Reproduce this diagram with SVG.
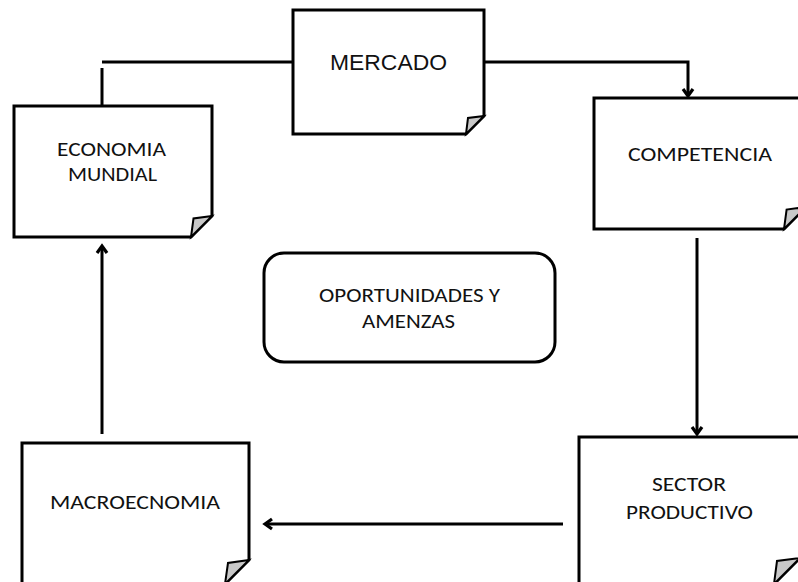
<svg xmlns="http://www.w3.org/2000/svg" width="798" height="582" viewBox="0 0 798 582">
  <style>
    .page { fill: #ffffff; stroke: #000000; stroke-width: 3; stroke-linejoin: miter; }
    .curl { fill: #c8c8c8; stroke: #000000; stroke-width: 2; stroke-linejoin: miter; }
    .wire { fill: none; stroke: #000000; stroke-width: 3; }
    .lbl { font-family: Carlito, Lato, "Open Sans", sans-serif; font-size: 21px; fill: #111111; text-anchor: middle; }
    .lbl-arial { font-family: "Liberation Sans", Arial, sans-serif; font-size: 22px; fill: #111111; text-anchor: middle; }
  </style>
  <defs>
    <marker id="head" markerUnits="userSpaceOnUse" markerWidth="16" markerHeight="16" viewBox="-10 -8 12 16" refX="0" refY="0" orient="auto" overflow="visible">
      <path d="M-7,-5 L0,0 L-7,5" fill="none" stroke="#000000" stroke-width="3.2"/>
    </marker>
  </defs>

  <rect width="798" height="582" fill="#ffffff"/>

  <!-- connectors -->
  <g id="connectors">
    <path class="wire" d="M293,62 H102"/>
    <path class="wire" d="M102,68 V106"/>
    <path class="wire" d="M484,62 H688 V96" marker-end="url(#head)"/>
    <path class="wire" d="M697,238 V434" marker-end="url(#head)"/>
    <path class="wire" d="M563,524 H265" marker-end="url(#head)"/>
    <path class="wire" d="M102,434 V246" marker-end="url(#head)"/>
  </g>

  <!-- MERCADO -->
  <g id="mercado">
    <path class="page" d="M293,10 H484 V116 L466,134 H293 Z"/>
    <path class="curl" d="M484,116 L468,118 L466,134 Z"/>
    <text class="lbl-arial" x="388.5" y="70" textLength="117" lengthAdjust="spacingAndGlyphs">MERCADO</text>
  </g>

  <!-- ECONOMIA MUNDIAL -->
  <g id="economia-mundial">
    <path class="page" d="M14,106 H212 V216 L191,237 H14 Z"/>
    <path class="curl" d="M212,216 L193.5,218.5 L191,237 Z"/>
    <text class="lbl" x="111.5" y="156" textLength="109" lengthAdjust="spacingAndGlyphs">ECONOMIA</text>
    <text class="lbl" x="112.5" y="181" textLength="89" lengthAdjust="spacingAndGlyphs">MUNDIAL</text>
  </g>

  <!-- COMPETENCIA -->
  <g id="competencia">
    <path class="page" d="M594,98 H806 V207 L784,229 H594 Z"/>
    <path class="curl" d="M806,207 L786.6,209.6 L784,229 Z"/>
    <text class="lbl" x="700" y="161" textLength="144" lengthAdjust="spacingAndGlyphs">COMPETENCIA</text>
  </g>

  <!-- OPORTUNIDADES Y AMENZAS -->
  <g id="oportunidades">
    <rect class="page" x="264" y="253" width="291" height="109" rx="20" ry="20"/>
    <text class="lbl" x="409.5" y="302" textLength="181" lengthAdjust="spacingAndGlyphs">OPORTUNIDADES Y</text>
    <text class="lbl" x="408.5" y="328" textLength="93" lengthAdjust="spacingAndGlyphs">AMENZAS</text>
  </g>

  <!-- SECTOR PRODUCTIVO -->
  <g id="sector-productivo">
    <path class="page" d="M579,437 H800 V558 L774,584 H579 Z"/>
    <path class="curl" d="M800,558 L777,561 L774,584 Z"/>
    <text class="lbl" x="689" y="491" textLength="74" lengthAdjust="spacingAndGlyphs">SECTOR</text>
    <text class="lbl" x="689.5" y="519" textLength="127" lengthAdjust="spacingAndGlyphs">PRODUCTIVO</text>
  </g>

  <!-- MACROECNOMIA -->
  <g id="macroecnomia">
    <path class="page" d="M22,443 H249 V560 L225,584 H22 Z"/>
    <path class="curl" d="M249,560 L228,563 L225,584 Z"/>
    <text class="lbl" x="135" y="509" textLength="170" lengthAdjust="spacingAndGlyphs">MACROECNOMIA</text>
  </g>
</svg>
